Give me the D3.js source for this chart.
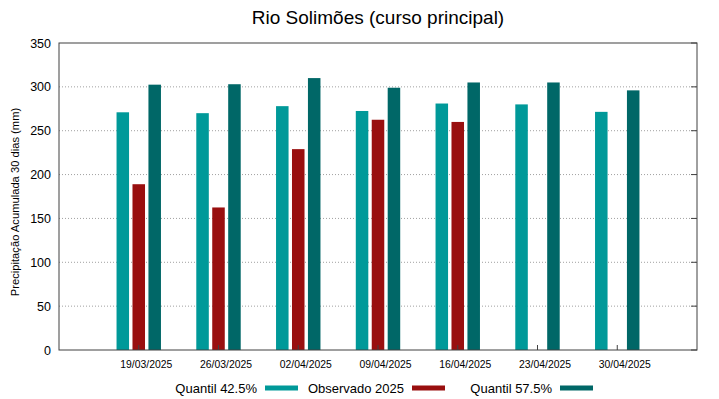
<!DOCTYPE html>
<html lang="pt">
<head>
  <meta charset="UTF-8">
  <title>Rio Solimões (curso principal)</title>
  <script src="https://d3js.org/d3.v7.min.js"></script>
  <style>
    body { margin: 0; background: #fff; }
    svg { font-family: "Liberation Sans", Arial, sans-serif; }
  </style>
</head>
<body>
  <div id="chart"></div>

  <script>
    // Datas (uma por grupo)
    const datas = ['19/03/2025', '26/03/2025', '02/04/2025', '09/04/2025', '16/04/2025', '23/04/2025', '30/04/2025'];

    // Séries (mm)
    const quantil425 = [271, 270, 278, 272.5, 281, 280, 271.5];
    const observado2025 = [189, 162.5, 229, 262.5, 260, null, null];
    const quantil575 = [302.5, 303, 310, 299, 305, 305, 296];

    const yTicks = [0, 50, 100, 150, 200, 250, 300, 350];

    const series = [
      { nome: 'Quantil 42.5%', valores: quantil425, cor: '#009999', desloc: -1 },
      { nome: 'Observado 2025', valores: observado2025, cor: '#990f0f', desloc: 0 },
      { nome: 'Quantil 57.5%', valores: quantil575, cor: '#006767', desloc: 1 }
    ];

    const width = 719, height = 399;
    const margin = { top: 43, right: 22, bottom: 49, left: 59 };
    const innerW = width - margin.left - margin.right;
    const innerH = height - margin.top - margin.bottom;

    const svg = d3.select('#chart').append('svg')
      .attr('width', width)
      .attr('height', height);

    // eixo x vai de -1 a 7 (como no gnuplot)
    const x = d3.scaleLinear().domain([-1, datas.length]).range([0, innerW]);
    const y = d3.scaleLinear().domain([0, 350]).range([innerH, 0]);

    const g = svg.append('g').attr('transform', `translate(${margin.left},${margin.top})`);

    // grade pontilhada
    g.append('g')
      .selectAll('line')
      .data(yTicks.filter(d => d > 0 && d < 350))
      .enter().append('line')
      .attr('x1', 0).attr('x2', innerW)
      .attr('y1', d => y(d)).attr('y2', d => y(d))
      .attr('stroke', '#a0a0a0')
      .attr('stroke-width', 1)
      .attr('stroke-dasharray', '1,2');

    // barras
    const passo = x(1) - x(0);
    const larg = passo * 0.157;
    const sep = passo * 0.2;
    series.forEach(s => {
      g.append('g')
        .selectAll('rect')
        .data(s.valores.map((v, i) => ({ v, i })).filter(d => d.v != null))
        .enter().append('rect')
        .attr('x', d => x(d.i) + s.desloc * sep - larg / 2)
        .attr('y', d => y(d.v))
        .attr('width', larg)
        .attr('height', d => innerH - y(d.v))
        .attr('fill', s.cor);
    });

    // eixo y
    const yAxis = g.append('g')
      .call(d3.axisLeft(y).tickValues(yTicks).tickSize(0).tickPadding(8));
    yAxis.select('.domain').remove();
    yAxis.selectAll('text').attr('font-size', 12.5).attr('fill', '#000');

    // ticks no eixo y (lado direito)
    g.append('g').selectAll('line')
      .data(yTicks)
      .enter().append('line')
      .attr('x1', innerW - 6).attr('x2', innerW)
      .attr('y1', d => y(d)).attr('y2', d => y(d))
      .attr('stroke', '#404040');

    // eixo x (rótulos deslocados um pouco para a direita, como no original)
    const xAxis = g.append('g')
      .attr('transform', `translate(0,${innerH})`)
      .call(d3.axisBottom(x).tickValues(d3.range(datas.length)).tickFormat(i => datas[i]).tickSize(0).tickPadding(11));
    xAxis.select('.domain').remove();
    xAxis.selectAll('text').attr('font-size', 10.4).attr('fill', '#000').attr('dx', 7);

    g.append('g').selectAll('line')
      .data(d3.range(datas.length))
      .enter().append('line')
      .attr('x1', d => x(d)).attr('x2', d => x(d))
      .attr('y1', innerH).attr('y2', innerH - 5)
      .attr('stroke', '#404040');

    // moldura
    g.append('rect')
      .attr('width', innerW).attr('height', innerH)
      .attr('fill', 'none')
      .attr('stroke', '#404040')
      .attr('stroke-width', 1);

    // título
    svg.append('text')
      .attr('x', margin.left + innerW / 2)
      .attr('y', 23.5)
      .attr('text-anchor', 'middle')
      .attr('font-size', 19)
      .text('Rio Solimões (curso principal)');

    // rótulo y
    svg.append('text')
      .attr('transform', `translate(19,202) rotate(-90)`)
      .attr('text-anchor', 'middle')
      .attr('font-size', 11.2)
      .text('Precipitação Acumulada 30 dias (mm)');

    // legenda
    const leg = svg.append('g').attr('transform', 'translate(0,388)');
    const colunas = [257, 404, 552];
    series.forEach((s, i) => {
      leg.append('text')
        .attr('x', colunas[i])
        .attr('y', 5)
        .attr('text-anchor', 'end')
        .attr('font-size', 13)
        .text(s.nome);
      leg.append('rect')
        .attr('x', colunas[i] + 8)
        .attr('y', -2.5)
        .attr('width', 33)
        .attr('height', 5)
        .attr('fill', s.cor);
    });
  </script>
</body>
</html>
